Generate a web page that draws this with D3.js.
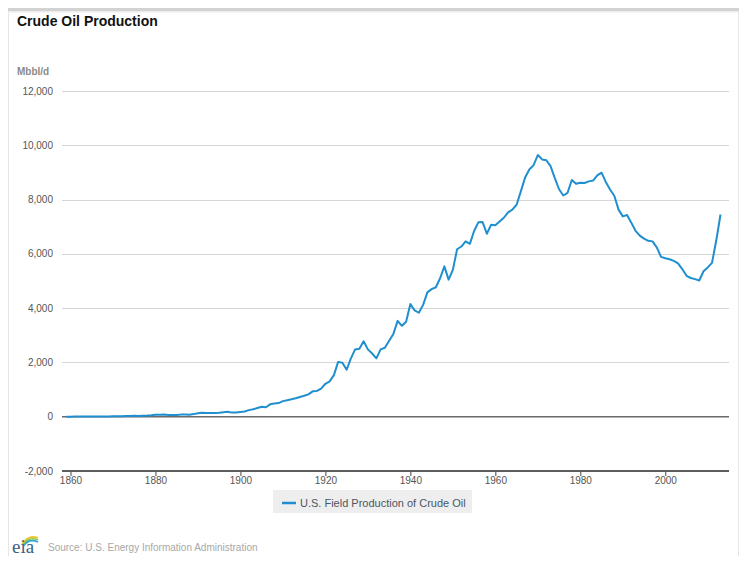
<!DOCTYPE html>
<html>
<head>
<meta charset="utf-8">
<script src="https://cdn.jsdelivr.net/npm/d3@7"></script>
<style>
    body { margin: 0; background: #fff; }
    svg { display: block; font-family: "Liberation Sans", Arial, sans-serif; }
</style>
</head>
<body>
<script>
// U.S. field production of crude oil, thousand barrels per day, one value per year
const years = d3.range(1859, 2014)
const production = [
    0, 1, 6, 8, 7, 6, 7, 10, 9, 10, 11,                      // 1859-1869
    14, 14, 17, 27, 30, 34, 25, 37, 42, 55,                  // 1870s
    72, 76, 83, 64, 66, 60, 77, 78, 76, 96,                  // 1880s
    125, 149, 139, 133, 135, 145, 167, 185, 151, 156,        // 1890s
    174, 190, 242, 275, 320, 368, 347, 457, 488, 501,        // 1900s
    574, 604, 640, 680, 727, 771, 824, 935, 950, 1037,       // 1910s
    1214, 1300, 1531, 2020, 1990, 1730, 2150, 2480, 2500, 2780, // 1920s
    2480, 2330, 2150, 2480, 2540, 2800, 3050, 3530, 3350, 3500, // 1930s
    4150, 3920, 3830, 4120, 4580, 4700, 4770, 5100, 5540, 5050, // 1940s
    5410, 6170, 6270, 6460, 6370, 6840, 7160, 7170, 6740, 7070, // 1950s
    7050, 7190, 7330, 7530, 7630, 7810, 8300, 8810, 9110, 9270, // 1960s
    9640, 9480, 9450, 9230, 8790, 8380, 8150, 8250, 8720, 8580, // 1970s
    8620, 8610, 8670, 8700, 8890, 8990, 8650, 8370, 8140, 7630, // 1980s
    7380, 7430, 7150, 6850, 6670, 6560, 6480, 6460, 6240, 5890, // 1990s
    5840, 5800, 5740, 5650, 5440, 5190, 5110, 5070, 5020, 5360, // 2000s
    5500, 5670, 6490, 7450                                   // 2010-2013
]
const yTicks = [-2000, 0, 2000, 4000, 6000, 8000, 10000, 12000]
const xTicks = [1860, 1880, 1900, 1920, 1940, 1960, 1980, 2000]
const seriesName = "U.S. Field Production of Crude Oil"

const width = 746
const height = 564
const lineColor = "#1f8fcf"

const svg = d3.select("body")
    .append("svg")
    .attr("width", width)
    .attr("height", height)

// panel frame with a soft top shadow
svg.append("line").attr("x1", 8.5).attr("x2", 8.5).attr("y1", 9).attr("y2", 556)
    .attr("stroke", "#e6e6e6")
svg.append("line").attr("x1", 738.5).attr("x2", 738.5).attr("y1", 9).attr("y2", 556)
    .attr("stroke", "#e6e6e6")
svg.append("rect").attr("x", 8).attr("y", 8).attr("width", 731).attr("height", 3)
    .attr("fill", "#d2d2d2")
svg.append("rect").attr("x", 8).attr("y", 11).attr("width", 731).attr("height", 1.5)
    .attr("fill", "#ececec")

svg.append("text")
    .attr("x", 17)
    .attr("y", 26)
    .attr("font-size", "14px")
    .attr("font-weight", "bold")
    .attr("fill", "#111")
    .text("Crude Oil Production")

svg.append("text")
    .attr("x", 17)
    .attr("y", 75)
    .attr("font-size", "10px")
    .attr("font-weight", "bold")
    .attr("fill", "#8a8a8a")
    .text("Mbbl/d")

const x = d3.scaleLinear()
    .domain([1858, 2015])
    .range([62, 729])

const y = d3.scaleLinear()
    .domain([-2000, 12000])
    .range([471, 91])

// grid lines
svg.append("g")
    .selectAll("line")
    .data(yTicks.filter(d => d > 0))
    .enter()
    .append("line")
    .attr("x1", 62)
    .attr("x2", 729)
    .attr("y1", d => Math.round(y(d)) + 0.5)
    .attr("y2", d => Math.round(y(d)) + 0.5)
    .attr("stroke", "#d6d6d6")

svg.append("g")
    .selectAll("text")
    .data(yTicks)
    .enter()
    .append("text")
    .attr("x", 53)
    .attr("y", d => y(d) + 3.5)
    .attr("text-anchor", "end")
    .attr("font-size", "10px")
    .attr("fill", "#555")
    .text(d => d3.format(",")(d).replace("−", "-"))

// zero line
svg.append("line")
    .attr("x1", 62).attr("x2", 729)
    .attr("y1", y(0)).attr("y2", y(0))
    .attr("stroke", "#6a6a6a")
    .attr("stroke-width", 1.5)

// x axis at the bottom
const xAxis = d3.axisBottom(x)
    .tickValues(xTicks)
    .tickSize(5)
    .tickPadding(1)
    .tickFormat(d3.format("d"))

const gx = svg.append("g")
    .attr("transform", `translate(0, ${y(-2000)})`)
    .call(xAxis)
gx.select(".domain").remove()
gx.selectAll(".tick line").attr("stroke", "#444")
gx.selectAll(".tick text")
    .attr("font-family", "'Liberation Sans', Arial, sans-serif")
    .attr("font-size", "10px")
    .attr("fill", "#555")
gx.append("line")
    .attr("x1", 62).attr("x2", 729)
    .attr("y1", 0).attr("y2", 0)
    .attr("stroke", "#5e5e5e")
    .attr("stroke-width", 2)

const line = d3.line()
    .x((d, i) => x(years[i]))
    .y(d => y(d))

svg.append("path")
    .datum(production)
    .attr("fill", "none")
    .attr("stroke", lineColor)
    .attr("stroke-width", 2)
    .attr("stroke-linejoin", "round")
    .attr("d", line)

// legend
const legend = svg.append("g").attr("transform", "translate(273, 490)")
legend.append("rect")
    .attr("width", 199)
    .attr("height", 23)
    .attr("fill", "#eeeeee")
legend.append("line")
    .attr("x1", 9).attr("x2", 23)
    .attr("y1", 13).attr("y2", 13)
    .attr("stroke", lineColor)
    .attr("stroke-width", 2.5)
legend.append("text")
    .attr("x", 27)
    .attr("y", 17)
    .attr("font-size", "11px")
    .attr("fill", "#4b5663")
    .text(seriesName)

// eia logo and source
const logo = svg.append("g").attr("transform", "translate(12, 531)")
const arcs = [["#f0c22c", 0], ["#8cc63e", 2], ["#2aa6df", 4]]
logo.selectAll("path")
    .data(arcs)
    .enter()
    .append("path")
    .attr("d", d => `M${10 + d[1] * 0.5},${13 + d[1] * 0.4} Q${17},${3 + d[1]} ${26},${7 + d[1]}`)
    .attr("fill", "none")
    .attr("stroke", d => d[0])
    .attr("stroke-width", 1.6)
logo.append("text")
    .attr("x", 0)
    .attr("y", 22)
    .attr("font-family", "'Liberation Serif', 'DejaVu Serif', serif")
    .attr("font-size", "19px")
    .attr("fill", "#3f5f7f")
    .text("eia")

svg.append("text")
    .attr("x", 48)
    .attr("y", 551)
    .attr("font-size", "10px")
    .attr("fill", "#a8a8a8")
    .text("Source: U.S. Energy Information Administration")
</script>
</body>
</html>
